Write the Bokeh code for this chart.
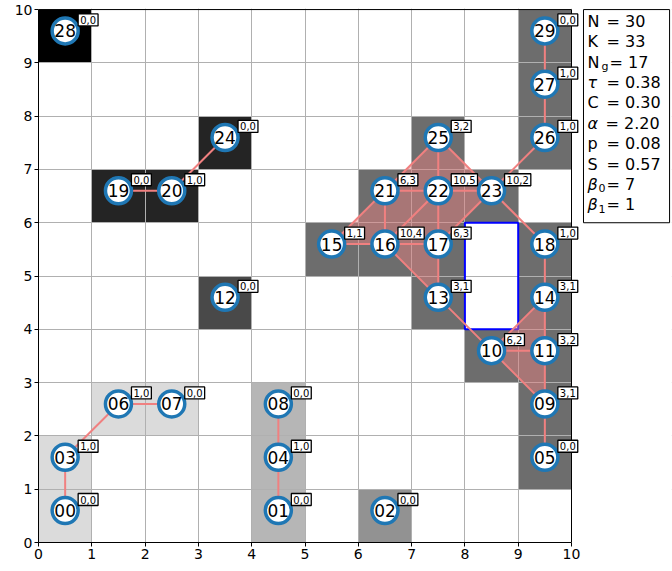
import numpy as np
from bokeh.plotting import figure
from bokeh.models import ColumnDataSource, FixedTicker
from bokeh.core.properties import value
from bokeh.embed import file_html
from bokeh.resources import INLINE

# ---------------- data ----------------
node_ids = ["%02d" % i for i in range(30)]
node_col = [0, 4, 6, 0, 4, 9, 1, 2, 4, 9, 8, 9, 3, 7, 9, 5, 6, 7, 9, 1, 2, 6, 7, 8, 3, 7, 9, 9, 0, 9]
node_row = [0, 0, 0, 1, 1, 1, 2, 2, 2, 2, 3, 3, 4, 4, 4, 5, 5, 5, 5, 6, 6, 6, 6, 6, 7, 7, 7, 8, 9, 9]
node_badge = ["0,0", "0,0", "0,0", "1,0", "1,0", "0,0", "1,0", "0,0", "0,0", "3,1",
              "6,2", "3,2", "0,0", "3,1", "3,1", "1,1", "10,4", "6,3", "1,0", "0,0",
              "1,0", "6,3", "10,5", "10,2", "0,0", "3,2", "1,0", "1,0", "0,0", "0,0"]
node_group = [0, 1, 2, 0, 1, 3, 0, 0, 1, 3, 3, 3, 4, 3, 3, 3, 3, 3, 3, 5,
              5, 3, 3, 3, 5, 3, 3, 3, 6, 3]
group_shades = ["#dbdbdb", "#b6b6b6", "#929292", "#6d6d6d", "#494949", "#242424", "#000000"]

edges = [(0, 3), (3, 6), (6, 7), (1, 4), (4, 8), (19, 20), (20, 24),
         (15, 16), (16, 17), (15, 21), (16, 21), (16, 22), (17, 22), (21, 22),
         (22, 23), (17, 23), (16, 13), (17, 13), (21, 25), (22, 25), (23, 25),
         (23, 18), (23, 26), (13, 10), (10, 11), (10, 14), (10, 9), (11, 14),
         (11, 9), (14, 18), (9, 5), (26, 27), (27, 29)]

hole_col = [8]
hole_row_start = [4]
hole_row_end = [6]

stat_names = ["N", "K", "N", "\u03c4", "C", "\u03b1", "p", "S", "\u03b2", "\u03b2"]
stat_subs = ["", "", "g", "", "", "", "", "", "0", "1"]
stat_values = ["30", "33", "17", "0.38", "0.30", "2.20", "0.08", "0.57", "7", "1"]

# ---------------- style / layout ----------------
FONT = "DejaVu Sans"
GRID_N = 10
PX_PER_UNIT = 53.3
FRAME_W = 633
X_END = FRAME_W / PX_PER_UNIT
stat_italic = [False, False, False, True, False, True, False, False, True, True]
stat_sub_dx = [0, 0, 18, 0, 0, 0, 0, 0, 15, 15]
stat_eq_dx = [23, 23, 26, 23, 23, 22, 23, 23, 23, 23]
box_left, box_right, box_bottom, box_top = 10.225, 11.84, 6.0, 10.0

p = figure(frame_width=FRAME_W, frame_height=534, x_range=(0, X_END), y_range=(0, 10.02),
           output_backend="svg", toolbar_location=None,
           min_border_left=38, min_border_right=1, min_border_top=8, min_border_bottom=29)
p.background_fill_color = "white"
p.border_fill_color = "white"
p.outline_line_color = None

ticks = list(range(GRID_N + 1))
for ax in (p.xaxis[0], p.yaxis[0]):
    ax.ticker = FixedTicker(ticks=ticks)
    ax.bounds = (0, GRID_N)
    ax.major_label_text_font = FONT
    ax.major_label_text_font_size = "14px"
    ax.major_label_text_color = "black"
    ax.axis_line_color = "black"
    ax.axis_line_width = 1
    ax.major_tick_line_color = "black"
    ax.major_tick_out = 4
    ax.major_tick_in = 0
    ax.minor_tick_line_color = None
    ax.major_label_standoff = 2

p.grid.grid_line_color = "#b0b0b0"
p.grid.grid_line_width = 1
p.grid.grid_line_alpha = 1
p.grid.ticker = FixedTicker(ticks=ticks)

nx = [c + 0.5 for c in node_col]
ny = [r + 0.6 for r in node_row]

# cells
cell_src = ColumnDataSource(dict(
    left=node_col, right=[c + 1 for c in node_col],
    bottom=node_row, top=[r + 1 for r in node_row],
    color=[group_shades[g] for g in node_group]))
p.quad(left="left", right="right", bottom="bottom", top="top", source=cell_src,
       fill_color="color", line_color=None, level="image")

# white area right of the grid (legend area)
p.quad(left=[GRID_N], right=[X_END + 1], bottom=[-1], top=[12],
       fill_color="white", line_color=None)

# hole outline
p.quad(left=hole_col, right=[c + 1 for c in hole_col], bottom=hole_row_start, top=hole_row_end,
       fill_color=None, line_color="blue", line_width=2)

# triangles (3-cliques)
eset = set(tuple(sorted(e)) for e in edges)
n = len(node_ids)
tri_xs, tri_ys = [], []
for a in range(n):
    for b in range(a + 1, n):
        if (a, b) not in eset:
            continue
        for c in range(b + 1, n):
            if (a, c) in eset and (b, c) in eset:
                tri_xs.append([nx[a], nx[b], nx[c]])
                tri_ys.append([ny[a], ny[b], ny[c]])
p.patches(tri_xs, tri_ys, fill_color="#f08080", fill_alpha=0.45, line_color=None)

# edges
p.segment(x0=[nx[a] for a, b in edges], y0=[ny[a] for a, b in edges],
          x1=[nx[b] for a, b in edges], y1=[ny[b] for a, b in edges],
          line_color="#f08080", line_width=2)

# top and right spines
p.line(x=[0, GRID_N, GRID_N], y=[GRID_N, GRID_N, 0], line_color="black", line_width=1)

# nodes
p.scatter(nx, ny, size=26, fill_color="white", line_color="#1f77b4", line_width=3.5)
p.text(nx, ny, text=node_ids, text_align="center", text_baseline="middle",
       text_font=value(FONT), text_font_size="17px", text_color="black")

# badges
p.text(nx, ny, text=node_badge, x_offset=13, y_offset=-5, text_align="left",
       text_baseline="bottom", text_font=value(FONT), text_font_size="10px",
       text_color="black", background_fill_color="white", border_line_color="black",
       border_line_width=1.3, padding=2)

# stats box
p.quad(left=[box_left], right=[box_right], bottom=[box_bottom], top=[box_top],
       fill_color="white", line_color="black", line_width=1)
m = len(stat_names)
yoffs = [11.7 + 20.4 * i for i in range(m)]
p.text(x=[box_left] * m, y=[box_top] * m, text=stat_names, x_offset=4, y_offset=yoffs,
       text_align="left", text_baseline="middle", text_font=value(FONT),
       text_font_size="16px", text_color="black",
       text_font_style=["italic" if it else "normal" for it in stat_italic])
sub_idx = [i for i in range(m) if stat_subs[i]]
p.text(x=[box_left] * len(sub_idx), y=[box_top] * len(sub_idx),
       text=[stat_subs[i] for i in sub_idx], x_offset=[stat_sub_dx[i] for i in sub_idx],
       y_offset=[yoffs[i] + 4 for i in sub_idx],
       text_align="left", text_baseline="middle", text_font=value(FONT),
       text_font_size="11px", text_color="black")
p.text(x=[box_left] * m, y=[box_top] * m, text=["= " + v for v in stat_values],
       x_offset=stat_eq_dx, y_offset=yoffs, text_align="left", text_baseline="middle",
       text_font=value(FONT), text_font_size="16px", text_color="black")

open("out.html", "w").write(file_html(p, INLINE))
